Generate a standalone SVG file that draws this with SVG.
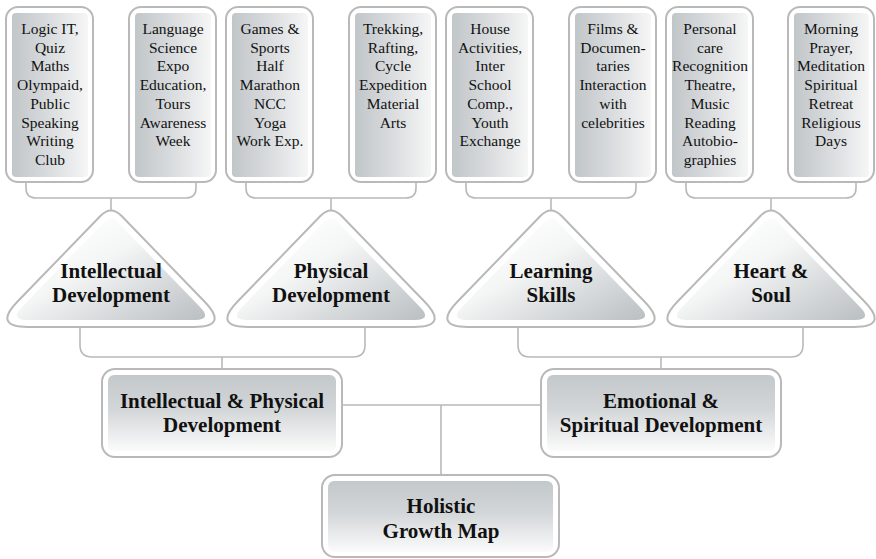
<svg xmlns="http://www.w3.org/2000/svg" xmlns:xlink="http://www.w3.org/1999/xlink" width="876" height="559" viewBox="0 0 876 559">
<defs>
<linearGradient id="gCard" x1="0" y1="0" x2="1" y2="0">
<stop offset="0" stop-color="#c1c6c9"/>
<stop offset="0.6" stop-color="#dfe1e3"/>
<stop offset="1" stop-color="#f6f6f6"/>
</linearGradient>
<linearGradient id="gTri" x1="0.1" y1="0.2" x2="0.95" y2="1">
<stop offset="0" stop-color="#ffffff"/>
<stop offset="0.35" stop-color="#f4f5f5"/>
<stop offset="1" stop-color="#bcc1c4"/>
</linearGradient>
<linearGradient id="gBox" x1="0" y1="0" x2="0" y2="1">
<stop offset="0" stop-color="#c3c8cb"/>
<stop offset="0.45" stop-color="#d3d6d8"/>
<stop offset="1" stop-color="#fbfbfb"/>
</linearGradient>
<path id="triOuter" d="M -10.4,215.8 Q 0,205 10.4,215.8 L 93.7,301.8 Q 118,327 83,327 L -83,327 Q -118,327 -93.7,301.8 Z"/>
<path id="triInner" d="M -7,222.2 Q 0,215 7,222.2 L 89,307.1 Q 101.5,320 83.5,320 L -83.5,320 Q -101.5,320 -89,307.1 Z"/>
</defs>
<style>
.outer{fill:#ffffff;stroke:#b9b9b9;stroke-width:2}
.card{fill:url(#gCard)}
.tri{fill:url(#gTri)}
.box{fill:url(#gBox)}
.conn{fill:none;stroke:#b9b9b9;stroke-width:1.6}
.ct{font-family:"Liberation Serif","Times New Roman",serif;font-size:15.5px;fill:#111;text-anchor:middle}
.bt{font-family:"Liberation Serif","Times New Roman",serif;font-size:21px;font-weight:bold;fill:#111;text-anchor:middle}
</style>
<rect width="876" height="559" fill="#ffffff"/>

<g id="connectors">
<path class="conn" d="M 26,182 V 188 Q 26,198 36,198 H 186 Q 196,198 196,188 V 182 M 111,198 V 212"/>
<path class="conn" d="M 246,182 V 188 Q 246,198 256,198 H 406 Q 416,198 416,188 V 182 M 331,198 V 212"/>
<path class="conn" d="M 466,182 V 188 Q 466,198 476,198 H 626 Q 636,198 636,188 V 182 M 551,198 V 212"/>
<path class="conn" d="M 686,182 V 188 Q 686,198 696,198 H 846 Q 856,198 856,188 V 182 M 771,198 V 212"/>
<path class="conn" d="M 80,327 V 345 Q 80,357 92,357 H 353 Q 365,357 365,345 V 327 M 222,357 V 369"/>
<path class="conn" d="M 518,327 V 345 Q 518,357 530,357 H 791 Q 803,357 803,345 V 327 M 661,357 V 369"/>
<path class="conn" d="M 342,405 H 541 M 441,405 V 475"/>
</g>

<g id="card1">
<rect class="outer" x="6" y="7" width="87" height="175" rx="12"/>
<rect class="card" x="12" y="13" width="76" height="164" rx="4"/>
<text class="ct" x="50" y="34"><tspan x="50">Logic IT,</tspan><tspan x="50" dy="18.7">Quiz</tspan><tspan x="50" dy="18.7">Maths</tspan><tspan x="50" dy="18.7">Olympaid,</tspan><tspan x="50" dy="18.7">Public</tspan><tspan x="50" dy="18.7">Speaking</tspan><tspan x="50" dy="18.7">Writing</tspan><tspan x="50" dy="18.7">Club</tspan></text>
</g>
<g id="card2">
<rect class="outer" x="129" y="7" width="87" height="175" rx="12"/>
<rect class="card" x="135" y="13" width="76" height="164" rx="4"/>
<text class="ct" x="173" y="34"><tspan x="173">Language</tspan><tspan x="173" dy="18.7">Science</tspan><tspan x="173" dy="18.7">Expo</tspan><tspan x="173" dy="18.7">Education,</tspan><tspan x="173" dy="18.7">Tours</tspan><tspan x="173" dy="18.7">Awareness</tspan><tspan x="173" dy="18.7">Week</tspan></text>
</g>
<g id="card3">
<rect class="outer" x="226" y="7" width="87" height="175" rx="12"/>
<rect class="card" x="232" y="13" width="76" height="164" rx="4"/>
<text class="ct" x="270" y="34"><tspan x="270">Games &amp;</tspan><tspan x="270" dy="18.7">Sports</tspan><tspan x="270" dy="18.7">Half</tspan><tspan x="270" dy="18.7">Marathon</tspan><tspan x="270" dy="18.7">NCC</tspan><tspan x="270" dy="18.7">Yoga</tspan><tspan x="270" dy="18.7">Work Exp.</tspan></text>
</g>
<g id="card4">
<rect class="outer" x="349" y="7" width="87" height="175" rx="12"/>
<rect class="card" x="355" y="13" width="76" height="164" rx="4"/>
<text class="ct" x="393" y="34"><tspan x="393">Trekking,</tspan><tspan x="393" dy="18.7">Rafting,</tspan><tspan x="393" dy="18.7">Cycle</tspan><tspan x="393" dy="18.7">Expedition</tspan><tspan x="393" dy="18.7">Material</tspan><tspan x="393" dy="18.7">Arts</tspan></text>
</g>
<g id="card5">
<rect class="outer" x="446" y="7" width="87" height="175" rx="12"/>
<rect class="card" x="452" y="13" width="76" height="164" rx="4"/>
<text class="ct" x="490" y="34"><tspan x="490">House</tspan><tspan x="490" dy="18.7">Activities,</tspan><tspan x="490" dy="18.7">Inter</tspan><tspan x="490" dy="18.7">School</tspan><tspan x="490" dy="18.7">Comp.,</tspan><tspan x="490" dy="18.7">Youth</tspan><tspan x="490" dy="18.7">Exchange</tspan></text>
</g>
<g id="card6">
<rect class="outer" x="569" y="7" width="87" height="175" rx="12"/>
<rect class="card" x="575" y="13" width="76" height="164" rx="4"/>
<text class="ct" x="613" y="34"><tspan x="613">Films &amp;</tspan><tspan x="613" dy="18.7">Documen-</tspan><tspan x="613" dy="18.7">taries</tspan><tspan x="613" dy="18.7">Interaction</tspan><tspan x="613" dy="18.7">with</tspan><tspan x="613" dy="18.7">celebrities</tspan></text>
</g>
<g id="card7">
<rect class="outer" x="666" y="7" width="87" height="175" rx="12"/>
<rect class="card" x="672" y="13" width="76" height="164" rx="4"/>
<text class="ct" x="710" y="34"><tspan x="710">Personal</tspan><tspan x="710" dy="18.7">care</tspan><tspan x="710" dy="18.7">Recognition</tspan><tspan x="710" dy="18.7">Theatre,</tspan><tspan x="710" dy="18.7">Music</tspan><tspan x="710" dy="18.7">Reading</tspan><tspan x="710" dy="18.7">Autobio-</tspan><tspan x="710" dy="18.7">graphies</tspan></text>
</g>
<g id="card8">
<rect class="outer" x="788" y="7" width="86" height="175" rx="12"/>
<rect class="card" x="794" y="13" width="75" height="164" rx="4"/>
<text class="ct" x="831" y="34"><tspan x="831">Morning</tspan><tspan x="831" dy="18.7">Prayer,</tspan><tspan x="831" dy="18.7">Meditation</tspan><tspan x="831" dy="18.7">Spiritual</tspan><tspan x="831" dy="18.7">Retreat</tspan><tspan x="831" dy="18.7">Religious</tspan><tspan x="831" dy="18.7">Days</tspan></text>
</g>

<g id="tri-intellectual">
<use xlink:href="#triOuter" class="outer" x="111"/>
<use xlink:href="#triInner" class="tri" x="111"/>
<text class="bt" x="111" y="278">Intellectual</text>
<text class="bt" x="111" y="302">Development</text>
</g>
<g id="tri-physical">
<use xlink:href="#triOuter" class="outer" x="331"/>
<use xlink:href="#triInner" class="tri" x="331"/>
<text class="bt" x="331" y="278">Physical</text>
<text class="bt" x="331" y="302">Development</text>
</g>
<g id="tri-learning">
<use xlink:href="#triOuter" class="outer" x="551"/>
<use xlink:href="#triInner" class="tri" x="551"/>
<text class="bt" x="551" y="278">Learning</text>
<text class="bt" x="551" y="302">Skills</text>
</g>
<g id="tri-heart">
<use xlink:href="#triOuter" class="outer" x="771"/>
<use xlink:href="#triInner" class="tri" x="771"/>
<text class="bt" x="771" y="278">Heart &amp;</text>
<text class="bt" x="771" y="302">Soul</text>
</g>

<g id="box-intphys">
<rect class="outer" x="102" y="369" width="240" height="88" rx="13"/>
<rect class="box" x="108" y="375" width="228" height="76" rx="6"/>
<text class="bt" x="222" y="408">Intellectual &amp; Physical</text>
<text class="bt" x="222" y="432">Development</text>
</g>
<g id="box-emotional">
<rect class="outer" x="541" y="369" width="240" height="88" rx="13"/>
<rect class="box" x="547" y="375" width="228" height="76" rx="6"/>
<text class="bt" x="661" y="408">Emotional &amp;</text>
<text class="bt" x="661" y="432">Spiritual Development</text>
</g>
<g id="box-holistic">
<rect class="outer" x="322" y="475" width="237" height="82" rx="13"/>
<rect class="box" x="328" y="481" width="225" height="71" rx="6"/>
<text class="bt" x="441" y="513">Holistic</text>
<text class="bt" x="441" y="538">Growth Map</text>
</g>
</svg>
